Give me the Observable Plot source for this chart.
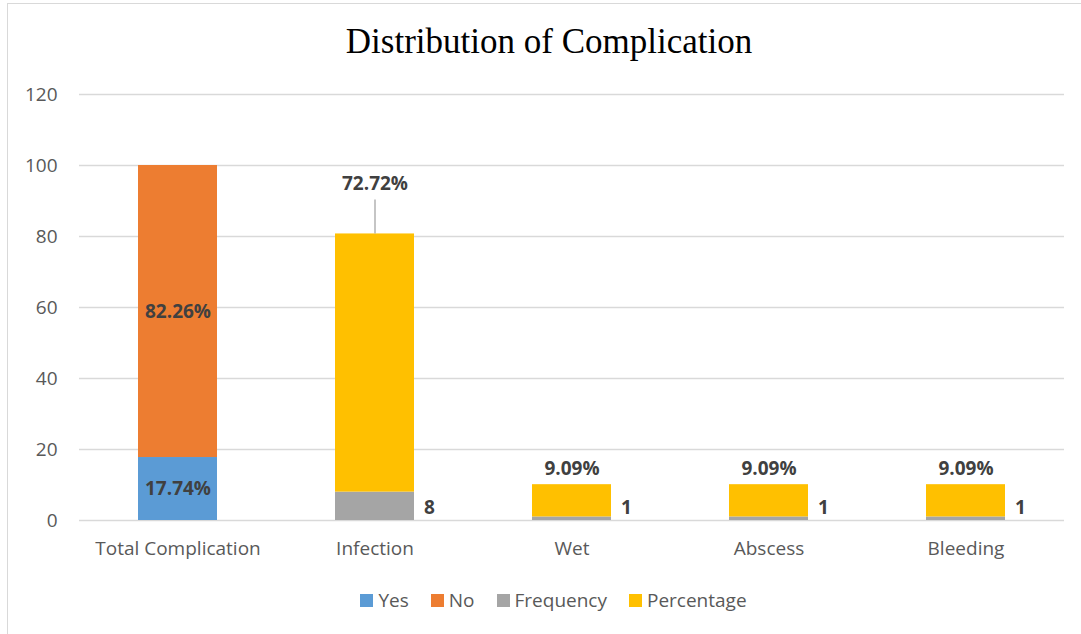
<!DOCTYPE html>
<html>
<head>
<meta charset="utf-8">
<script src="https://cdn.jsdelivr.net/npm/d3@7"></script>
<script src="https://cdn.jsdelivr.net/npm/@observablehq/plot@0.6"></script>
<style>
  body { margin: 0; background: #fff; }
  #wrap { position: relative; width: 1081px; height: 634px; overflow: hidden; background: #fff; }
  #frame { position: absolute; left: 7px; top: 3px; width: 1100px; height: 700px;
           border-left: 1.5px solid #d9d9d9; border-top: 1.5px solid #d9d9d9; }
  #title { position: absolute; left: 0; top: 22px; width: 1098px; text-align: center;
           font-family: "Liberation Serif", "Times New Roman", serif; font-size: 35px; color: #000; line-height: 40px; }
  #chart { position: absolute; left: 0; top: 70px; }
  #legend { position: absolute; left: 0; top: 587px; width: 1107px; display: flex; justify-content: center;
            font-family: "Open Sans", sans-serif; font-size: 19px; line-height: 26px; color: #595959; }
  .item { display: flex; align-items: center; margin: 0 11px; }
  .sw { width: 13px; height: 13px; margin-right: 5px; }
</style>
</head>
<body>
<div id="wrap">
  <div id="frame"></div>
  <div id="title">Distribution of Complication</div>
  <div id="chart"></div>
  <div id="legend"></div>
</div>
<script>
const categories = ["Total Complication", "Infection", "Wet", "Abscess", "Bleeding"];
const seriesNames = ["Yes", "No", "Frequency", "Percentage"];
const seriesColors = ["#5b9bd5", "#ed7d31", "#a5a5a5", "#ffc000"];
const yesValues = [17.74, null, null, null, null];
const noValues = [82.26, null, null, null, null];
const frequencyValues = [null, 8, 1, 1, 1];
const percentageValues = [null, 72.72, 9.09, 9.09, 9.09];
const yTicks = [0, 20, 40, 60, 80, 100, 120];
const calloutCategory = "Infection";

const seriesValues = [yesValues, noValues, frequencyValues, percentageValues];
const rows = [];
categories.forEach((c, i) => {
  seriesNames.forEach((s, j) => {
    const v = seriesValues[j][i];
    if (v != null) rows.push({category: c, series: s, value: v});
  });
});
const totalRows = rows.filter(d => d.series === "Yes" || d.series === "No");
const freqRows = rows.filter(d => d.series === "Frequency");
const pctRows = rows.filter(d => d.series === "Percentage").map(d => {
  const i = categories.indexOf(d.category);
  return {...d, top: (frequencyValues[i] || 0) + d.value};
});

const labelColor = "#404040";
const labelFont = {fill: labelColor, fontWeight: "bold", fontSize: 19, fontFamily: "'Open Sans', sans-serif"};
const plotHeight = 500, mTop = 24, mBottom = 50;
const unitsPerPx = (yTicks[yTicks.length - 1] - yTicks[0]) / (plotHeight - mTop - mBottom);
const leaderPx = 34;

const chart = Plot.plot({
  width: 1081,
  height: plotHeight,
  marginLeft: 79,
  marginRight: 17,
  marginTop: mTop,
  marginBottom: mBottom,
  style: {fontFamily: "'Open Sans', sans-serif", fontSize: "19px", color: "#595959", background: "transparent"},
  x: {domain: categories, paddingInner: 0.6, paddingOuter: 0.3, label: null},
  y: {domain: [0, 120], ticks: yTicks, label: null},
  color: {domain: seriesNames, range: seriesColors},
  marks: [
    Plot.gridY(yTicks, {stroke: "#d9d9d9", strokeOpacity: 1, strokeWidth: 1.5}),
    Plot.axisY(yTicks, {tickSize: 0, tickPadding: 22, fontSize: 19, fill: "#595959"}),
    Plot.axisX({tickSize: 0, tickPadding: 21, fontSize: 19, fill: "#595959"}),
    Plot.barY(rows, {x: "category", y: "value", fill: "series", z: "series"}),
    Plot.text(totalRows, Plot.stackY({
      x: "category", y: "value", z: "series",
      text: d => d.value.toFixed(2) + "%",
      ...labelFont
    })),
    Plot.text(pctRows.filter(d => d.category !== calloutCategory), {
      x: "category", y: "top", dy: -16,
      text: d => d.value.toFixed(2) + "%",
      ...labelFont
    }),
    Plot.ruleX(pctRows.filter(d => d.category === calloutCategory), {
      x: "category", y1: "top", y2: d => d.top + leaderPx * unitsPerPx,
      stroke: "#a6a6a6", strokeWidth: 1.3
    }),
    Plot.text(pctRows.filter(d => d.category === calloutCategory), {
      x: "category", y: "top", dy: -50,
      text: d => d.value.toFixed(2) + "%",
      ...labelFont
    }),
    Plot.text(freqRows, {
      x: "category", frameAnchor: "bottom", dy: -7, dx: 49, textAnchor: "start",
      text: d => String(d.value),
      ...labelFont
    })
  ]
});
document.getElementById("chart").appendChild(chart);

const legend = document.getElementById("legend");
seriesNames.forEach((s, i) => {
  const item = document.createElement("div");
  item.className = "item";
  const sw = document.createElement("span");
  sw.className = "sw";
  sw.style.background = seriesColors[i];
  const t = document.createElement("span");
  t.textContent = s;
  item.appendChild(sw);
  item.appendChild(t);
  legend.appendChild(item);
});
</script>
</body>
</html>
